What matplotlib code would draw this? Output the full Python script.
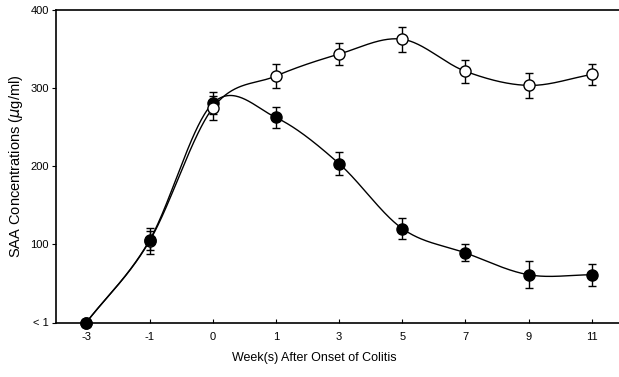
import numpy as np
import matplotlib
matplotlib.use("Agg")
import matplotlib.pyplot as plt

weeks = ["-3", "-1", "0", "1", "3", "5", "7", "9", "11"]
filled_vals = [0, 105, 280, 262, 203, 120, 89, 61, 61]
filled_err = [0, 12, 14, 13, 15, 13, 11, 17, 14]
open_vals = [0, 104, 274, 315, 343, 362, 321, 303, 317]
open_err = [0, 17, 15, 15, 14, 16, 15, 16, 13]
yticks = [0, 100, 200, 300, 400]
yticklabels = ["< 1", "100", "200", "300", "400"]


def catmull_rom(x, y, per=60):
    x = np.asarray(x, float)
    y = np.asarray(y, float)
    k = len(x)
    m = np.zeros(k)
    m[1:-1] = (y[2:] - y[:-2]) / (x[2:] - x[:-2])
    m[0] = (y[1] - y[0]) / (x[1] - x[0])
    m[-1] = (y[-1] - y[-2]) / (x[-1] - x[-2])
    xs_all, ys_all = [], []
    for i in range(k - 1):
        h = x[i + 1] - x[i]
        t = np.linspace(0, 1, per, endpoint=(i == k - 2))
        h00 = 2 * t**3 - 3 * t**2 + 1
        h10 = t**3 - 2 * t**2 + t
        h01 = -2 * t**3 + 3 * t**2
        h11 = t**3 - t**2
        xs_all.append(x[i] + t * h)
        ys_all.append(h00 * y[i] + h10 * h * m[i] + h01 * y[i + 1] + h11 * h * m[i + 1])
    return np.concatenate(xs_all), np.concatenate(ys_all)


plt.rcParams["font.family"] = ["Liberation Sans", "DejaVu Sans"]
fig = plt.figure(figsize=(6.19, 3.77), dpi=100)
ax = fig.add_axes([56 / 619, 1 - 322.5 / 377, (619 - 56) / 619, (322.5 - 9.5) / 377])

idx = np.arange(len(weeks))
for vals, err in [(filled_vals, filled_err), (open_vals, open_err)]:
    xs, ys = catmull_rom(idx, vals)
    ax.plot(xs, ys, color="black", lw=1.0, zorder=2)
    e = np.array(err, float)
    mask = e > 0
    ax.errorbar(idx[mask], np.array(vals)[mask], yerr=e[mask], fmt="none",
                ecolor="black", elinewidth=1.0, capsize=3, capthick=1.0, zorder=3)

fv = np.array(filled_vals, float)
ov = np.array(open_vals, float)
# open markers (drawn under filled ones except at week 0)
ax.plot(idx, ov, "o", ms=8, mfc="white", mec="black", mew=1.0, zorder=5, clip_on=False)
top = idx != 2
ax.plot(idx[top], fv[top], "o", ms=8, mfc="black", mec="black", mew=1.0, zorder=6, clip_on=False)
ax.plot(idx[~top], fv[~top], "o", ms=8, mfc="black", mec="black", mew=1.0, zorder=4, clip_on=False)

ax.set_xlim(-0.48, 8.43)
ax.set_ylim(0, 400)
ax.set_xticks(idx)
ax.set_xticklabels(weeks, fontsize=8)
ax.set_yticks(yticks)
ax.set_yticklabels(yticklabels, fontsize=8)
ax.tick_params(axis="x", direction="in", length=3, width=0.8, pad=7)
ax.tick_params(axis="y", direction="out", length=3, width=0.8, pad=2)
ax.spines["right"].set_visible(False)
for s in ["left", "top", "bottom"]:
    ax.spines[s].set_linewidth(1.2)
ax.set_xlabel("Week(s) After Onset of Colitis", fontsize=9)
ax.xaxis.set_label_coords(0.458, -0.095)
ax.set_ylabel("SAA Concentrations ($\\mu$g/ml)", fontsize=10.5, labelpad=4)

fig.savefig("out.png", dpi=100)
